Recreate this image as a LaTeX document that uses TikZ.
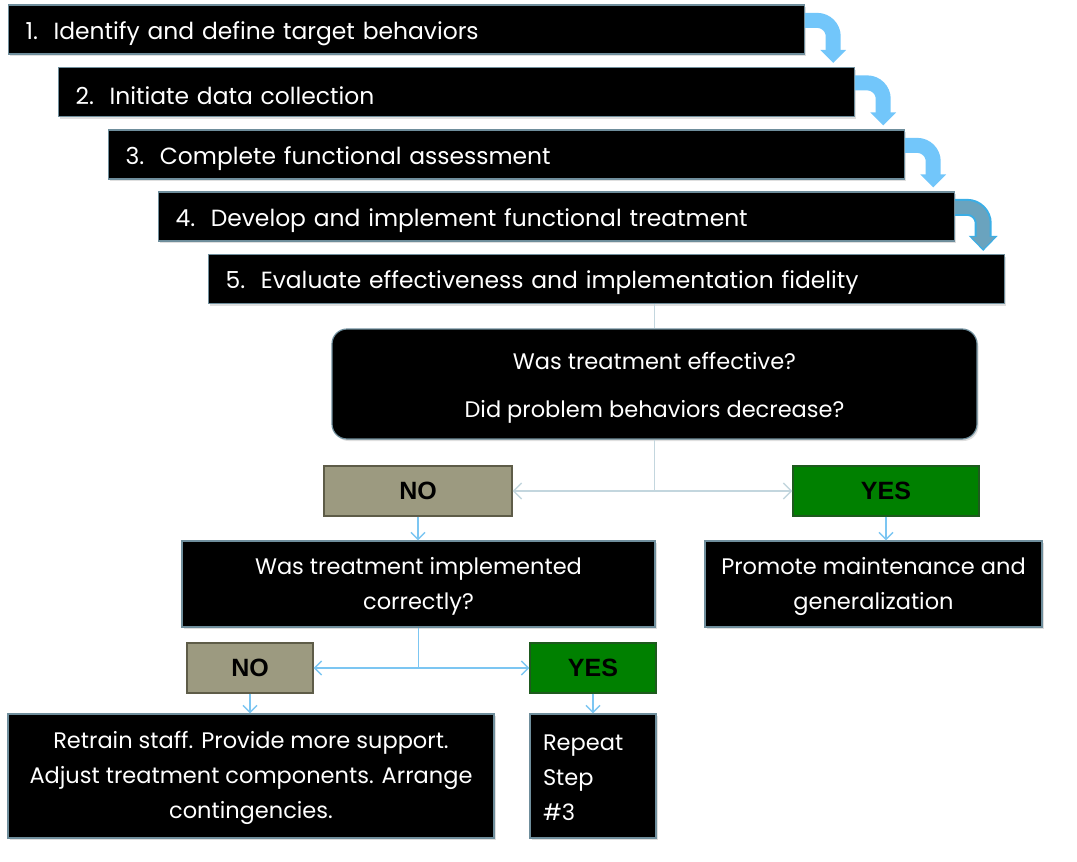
\documentclass[tikz,border=0pt]{standalone}
\usepackage{fontspec}
\setmainfont{Poppins}
\newfontfamily\stepfont{Poppins}
\newfontfamily\twfont{Poppins}
\newfontfamily\arialfont{Liberation Sans}
\usetikzlibrary{arrows.meta,shadows}
\newcommand{\firstlinestrut}[1]{\rule{0pt}{#1}}
\definecolor{boxedge}{HTML}{6F8E9C}
\definecolor{flowblue}{HTML}{72C6FA}
\definecolor{flowdark}{HTML}{6AA3BE}
\definecolor{flowdarkedge}{HTML}{3AAEE6}
\definecolor{greyline}{HTML}{C3D6DE}
\definecolor{blueline}{HTML}{7CC6F2}
\definecolor{nofill}{HTML}{9C9A80}
\definecolor{noedge}{HTML}{5E5C48}
\definecolor{yesfill}{HTML}{008000}
\definecolor{yesedge}{HTML}{1E5A1E}
\begin{document}
\begin{tikzpicture}[x=1pt,y=-1pt,
  stepbox/.style={draw=boxedge, line width=1.2pt, fill=black, text=white,
    font=\stepfont\fontsize{23.4}{27}\selectfont, text width=762pt, inner xsep=17pt,
    minimum height=49pt, align=left, anchor=west,
    execute at begin node={\rule{0pt}{26pt}},
    drop shadow={opacity=0.25, shadow xshift=1.5pt, shadow yshift=-2pt}},
  darkbox/.style={draw=boxedge, line width=1.2pt, fill=black, text=white,
    font=\twfont\fontsize{22.5}{35}\selectfont, align=center,
    drop shadow={opacity=0.25, shadow xshift=1.5pt, shadow yshift=-2pt}},
  nobox/.style={draw=noedge, line width=1.2pt, fill=nofill, text=black,
    font=\arialfont\bfseries\fontsize{25}{28}\selectfont, minimum width=126pt, minimum height=50pt},
  yesbox/.style={draw=yesedge, line width=1.2pt, fill=yesfill, text=black,
    font=\arialfont\bfseries\fontsize{25}{28}\selectfont, minimum width=126pt, minimum height=50pt},
  bigflow/.style={line width=15pt, color=flowblue, rounded corners=16pt,
    -{Triangle[width=25pt,length=13pt]}},
  greyconn/.style={line width=1.5pt, color=greyline, -{Straight Barb[width=16pt,length=8pt,line width=1.5pt]}},
  blueconn/.style={line width=1.5pt, color=blueline, -{Straight Barb[width=14pt,length=7pt,line width=1.5pt]}},
  greyseg/.style={line width=1.5pt, color=greyline},
  blueseg/.style={line width=1.5pt, color=blueline}
]
\useasboundingbox (0,0) rectangle (1077,862);

% step boxes
\node[stepbox] (b1) at (8,29.5) {1.\ \ Identify and define target behaviors};
\node[stepbox] (b2) at (58,92) {2.\ \ Initiate data collection};
\node[stepbox] (b3) at (108,154.5) {3.\ \ Complete functional assessment};
\node[stepbox] (b4) at (158,216.5) {4.\ \ Develop and implement\ functional treatment};
\node[stepbox] (b5) at (208,279) {5.\ \ Evaluate effectiveness and implementation fidelity};

% curved arrows between steps
\draw[bigflow] ([yshift=-16pt]b1.north east) -| ([xshift=28pt,yshift=4pt]b1.east |- b2.north);
\draw[bigflow] ([yshift=-16pt]b2.north east) -| ([xshift=28pt,yshift=4pt]b2.east |- b3.north);
\draw[bigflow] ([yshift=-16pt]b3.north east) -| ([xshift=28pt,yshift=4pt]b3.east |- b4.north);
\draw[bigflow, line width=17pt, color=flowdarkedge, -{Triangle[width=28pt,length=15pt]}]
  ([yshift=-16pt]b4.north east) -| ([xshift=28pt,yshift=3pt]b4.east |- b5.north);
\draw[bigflow, line width=13pt, color=flowdark, -{Triangle[width=23pt,length=12pt]}]
  ([yshift=-16pt]b4.north east) -| ([xshift=28pt,yshift=5pt]b4.east |- b5.north);

% decision box
\node[darkbox, rounded corners=15pt, minimum width=645pt, minimum height=110pt] (dec) at (654.5,384)
  {\firstlinestrut{25pt}Was treatment effective?\\[13pt]Did problem behaviors decrease?};

\node[nobox, minimum width=188pt] (no1) at (418,491) {NO};
\node[yesbox, minimum width=186pt] (yes1) at (886,491) {YES};

\node[darkbox, minimum width=473pt, minimum height=86pt] (q2) at (418.5,584)
  {\firstlinestrut{22pt}Was treatment implemented\\correctly?};
\node[darkbox, minimum width=337pt, minimum height=86pt] (prom) at (873.5,584)
  {\firstlinestrut{22pt}Promote maintenance and\\generalization};

\node[nobox] (no2) at (250,668) {NO};
\node[yesbox] (yes2) at (593,668) {YES};

\node[darkbox, minimum width=486pt, minimum height=124pt] (ret) at (251,776)
  {\firstlinestrut{22pt}Retrain staff. Provide more support.\\Adjust treatment components. Arrange\\contingencies.};
\node[darkbox, minimum width=126pt, minimum height=124pt, align=left, text width=100pt, inner xsep=13pt] (rep) at (593,776)
  {\firstlinestrut{20pt}Repeat\\Step\\\#3};

% connectors
\draw[greyseg] (dec.north |- b5.south) -- (dec.north);
\coordinate (j1) at (dec.south |- no1.east);
\draw[greyseg] (dec.south) -- (j1);
\draw[greyconn] (j1) -- (no1.east);
\draw[greyconn] (j1) -- (yes1.west);
\draw[blueconn] (no1.south) -- (no1.south |- q2.north);
\draw[blueconn] (yes1.south) -- (yes1.south |- prom.north);

\coordinate (j2) at (q2.south |- no2.east);
\draw[blueseg] (q2.south) -- (j2);
\draw[blueconn] (j2) -- (no2.east);
\draw[blueconn] (j2) -- (yes2.west);
\draw[blueconn] (no2.south) -- (no2.south |- ret.north);
\draw[blueconn] (yes2.south) -- (yes2.south |- rep.north);
\end{tikzpicture}
\end{document}
